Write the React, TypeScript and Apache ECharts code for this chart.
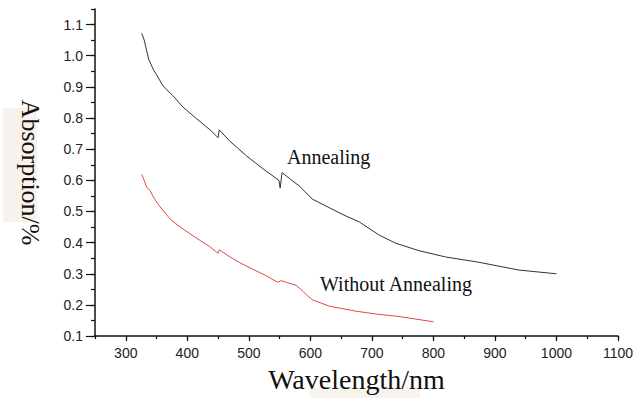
import React, { useEffect, useRef } from "react";
import * as echarts from "echarts";

// Wavelength (nm) and absorption (%)
const annealingWavelength = [326, 330, 337, 345, 350, 360, 366, 377, 393, 415, 437, 448, 450, 452, 469, 496, 523, 549, 551, 554, 566, 582, 603, 631, 653, 680, 712, 739, 777, 820, 874, 939, 1000];
const annealingAbsorption = [1.072, 1.05, 0.99, 0.955, 0.939, 0.905, 0.892, 0.871, 0.835, 0.798, 0.762, 0.741, 0.737, 0.762, 0.726, 0.679, 0.637, 0.6, 0.575, 0.625, 0.606, 0.582, 0.54, 0.512, 0.49, 0.466, 0.424, 0.398, 0.374, 0.354, 0.337, 0.312, 0.3];

const withoutWavelength = [326, 330, 334, 340, 345, 352, 361, 374, 390, 404, 420, 436, 448, 450, 452, 468, 485, 505, 523, 547, 553, 565, 577, 588, 596, 604, 631, 674, 710, 744, 770, 800];
const withoutAbsorption = [0.619, 0.6, 0.578, 0.565, 0.546, 0.525, 0.502, 0.472, 0.448, 0.429, 0.408, 0.388, 0.369, 0.366, 0.377, 0.356, 0.336, 0.316, 0.299, 0.273, 0.278, 0.27, 0.263, 0.244, 0.228, 0.216, 0.196, 0.18, 0.17, 0.163, 0.155, 0.146];

const xTitle = "Wavelength/nm";
const yTitle = "Absorption/%";
const label1 = "Annealing";
const label2 = "Without Annealing";

const zip = (xs: number[], ys: number[]) => xs.map((x, i) => [x, ys[i]]);

export default function App() {
  const ref = useRef<HTMLDivElement>(null);
  useEffect(() => {
    if (!ref.current) return;
    const chart = echarts.init(ref.current, null, { renderer: "svg" });
    const sans = "Liberation Sans";
    const serif = "Liberation Serif";
    chart.setOption({
      animation: false,
      backgroundColor: "#ffffff",
      grid: { left: 95, right: 17, top: 9, bottom: 52 },
      xAxis: [
        {
          type: "value",
          min: 250,
          max: 1100,
          splitNumber: 8,
          name: xTitle,
          nameLocation: "middle",
          nameGap: 20,
          nameTextStyle: { fontFamily: serif, fontSize: 28, color: "#111" },
          axisLine: { lineStyle: { color: "#111", width: 1.5 } },
          axisTick: { length: 5, lineStyle: { color: "#111", width: 1.2 } },
          axisLabel: {
            showMinLabel: false,
            fontFamily: sans,
            fontSize: 14,
            color: "#222",
            margin: 10,
            formatter: (v: number) => String(v),
          },
          splitLine: { show: false },
        },
        {
          type: "value",
          min: 250,
          max: 1100,
          interval: 50,
          position: "bottom",
          axisLine: { show: false },
          axisTick: { length: 3, lineStyle: { color: "#111", width: 1.2 } },
          axisLabel: { show: false },
          splitLine: { show: false },
        },
      ],
      yAxis: [
        {
          type: "value",
          min: 0.1,
          max: 1.15,
          interval: 0.1,
          name: yTitle,
          nameLocation: "middle",
          nameRotate: -90,
          nameGap: 52,
          nameTextStyle: { fontFamily: serif, fontSize: 26, color: "#111" },
          axisLine: { show: true, lineStyle: { color: "#111", width: 1.5 } },
          axisTick: { length: 9, lineStyle: { color: "#111", width: 1.2 } },
          axisLabel: {
            showMaxLabel: false,
            fontFamily: sans,
            fontSize: 14,
            color: "#222",
            margin: 12,
            formatter: (v: number) => v.toFixed(1),
          },
          splitLine: { show: false },
        },
        {
          type: "value",
          min: 0.1,
          max: 1.15,
          interval: 0.05,
          position: "left",
          axisLine: { show: false },
          axisTick: { length: 4, lineStyle: { color: "#111", width: 1.2 } },
          axisLabel: { show: false },
          splitLine: { show: false },
        },
      ],
      graphic: [
        { type: "rect", z: -1, shape: { x: 3, y: 108, width: 34, height: 114 }, style: { fill: "#f8f1ec" }, silent: true },
        { type: "rect", z: -1, shape: { x: 310, y: 387, width: 110, height: 11 }, style: { fill: "#f9f3ee" }, silent: true },
        {
          type: "text",
          x: 287,
          y: 157,
          style: { text: label1, fontFamily: serif, fontSize: 20, fill: "#111", align: "left", verticalAlign: "middle" },
        },
        {
          type: "text",
          x: 320,
          y: 284,
          style: { text: label2, fontFamily: serif, fontSize: 20, fill: "#111", align: "left", verticalAlign: "middle" },
        },
      ],
      series: [
        {
          name: label1,
          type: "line",
          xAxisIndex: 0,
          yAxisIndex: 0,
          data: zip(annealingWavelength, annealingAbsorption),
          showSymbol: false,
          symbol: "none",
          lineStyle: { color: "#333", width: 1 },
        },
        {
          name: label2,
          type: "line",
          xAxisIndex: 0,
          yAxisIndex: 0,
          data: zip(withoutWavelength, withoutAbsorption),
          showSymbol: false,
          symbol: "none",
          lineStyle: { color: "#e04848", width: 1 },
        },
      ],
    });
    return () => chart.dispose();
  }, []);
  return <div ref={ref} style={{ position: "absolute", left: 0, top: 0, width: 636, height: 398 }} />;
}
